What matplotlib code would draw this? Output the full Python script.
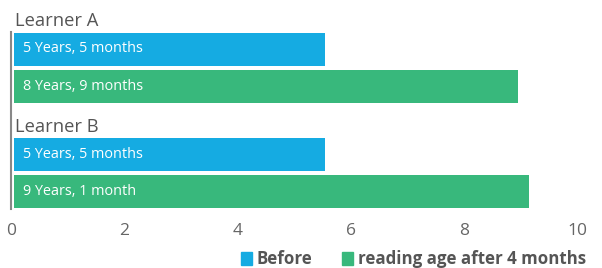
import matplotlib
matplotlib.use("Agg")
import matplotlib.pyplot as plt
from matplotlib.patches import Patch
from matplotlib.transforms import ScaledTranslation

learners = ["Learner A", "Learner B"]
series = ["Before", "reading age after 4 months"]
before = [5.5, 5.5]
after = [8.9, 9.1]
before_labels = ["5 Years, 5 months", "5 Years, 5 months"]
after_labels = ["8 Years, 9 months", "9 Years, 1 month"]
xticks = [0, 2, 4, 6, 8, 10]

colors = ["#15ABE2", "#38B87C"]
plt.rcParams['font.family'] = ['Open Sans', 'DejaVu Sans']

W, H = 602, 268
fig = plt.figure(figsize=(W/100, H/100), dpi=100)
ax_top, ax_bot = 32, 209
ax = fig.add_axes([11/W, (H-ax_bot)/H, (577-11)/W, (ax_bot-ax_top)/H])
ax.set_xlim(0, 10)
ax.set_ylim(ax_bot, ax_top)
shift = ScaledTranslation(3/100, 0, fig.dpi_scale_trans)

group_start = 49
group_step = 105.5
bar_step = 37
bar_h = 33

vals = [before, after]
labs = [before_labels, after_labels]
for i, name in enumerate(learners):
    base = group_start + i*group_step
    ax.text(0, base - bar_h/2 - 6, name, fontsize=13.2, color="#555555",
            ha="left", va="baseline", clip_on=False,
            transform=ax.transData + ScaledTranslation(4/100, 0, fig.dpi_scale_trans))
    for j in range(2):
        y = base + j*bar_step
        bars = ax.barh(y, vals[j][i], height=bar_h, left=0, color=colors[j])
        for b in bars:
            b.set_transform(ax.transData + shift)
        ax.annotate(labs[j][i], (0, y), xytext=(12, 0), textcoords="offset pixels",
                    color="white", fontsize=10.4, fontweight="medium",
                    va="center", ha="left")

ax.set_xticks(xticks)
ax.set_xticklabels([str(t) for t in xticks], fontsize=12.5, color="#666666")
ax.tick_params(axis="x", length=0, pad=10)
ax.set_yticks([])
for s in ["top", "right", "bottom"]:
    ax.spines[s].set_visible(False)
ax.spines["left"].set_color("#888888")
ax.spines["left"].set_linewidth(1.5)

handles = [Patch(color=colors[k], label=series[k]) for k in range(2)]
leg = fig.legend(handles=handles, loc="center right", bbox_to_anchor=(601/W, 1-259/H),
                 ncol=2, frameon=False, handlelength=0.65, handleheight=0.8,
                 handletextpad=0.3, columnspacing=1.7,
                 prop={"size": 12.2, "weight": "bold"})
for t in leg.get_texts():
    t.set_color("#555555")

fig.savefig("out.png", dpi=100)
